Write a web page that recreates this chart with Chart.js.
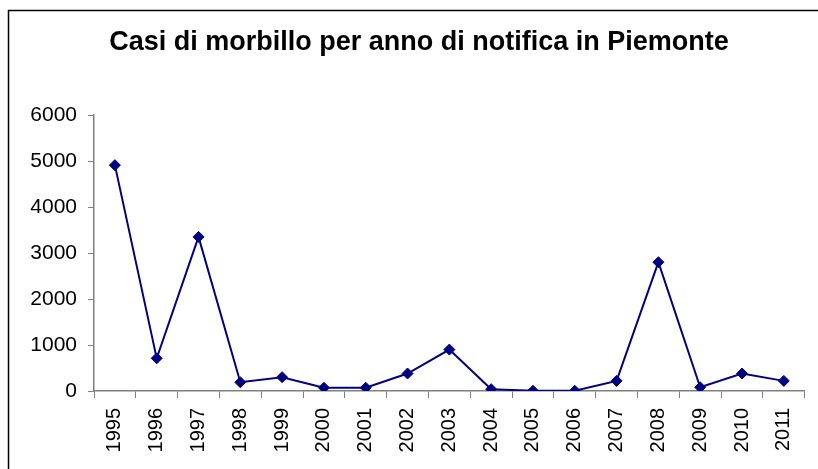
<!DOCTYPE html>
<html>
<head>
<meta charset="utf-8">
<script src="https://cdn.jsdelivr.net/npm/chart.js@4"></script>
<style>
  html, body { margin: 0; padding: 0; background: #fff; }
  #wrap { position: relative; width: 818px; height: 469px; }
</style>
</head>
<body>
<div id="wrap"><canvas id="chart"></canvas></div>
<script>
const YEARS = ['1995', '1996', '1997', '1998', '1999', '2000', '2001', '2002', '2003',
               '2004', '2005', '2006', '2007', '2008', '2009', '2010', '2011'];
const CASI = [4910, 710, 3350, 190, 300, 70, 70, 380, 900, 40, 5, 5, 220, 2800, 80, 380, 220];
const Y_MIN = 0;
const Y_MAX = 6000;
const Y_STEP = 1000;

const FONT = '"Liberation Sans", Arial, sans-serif';

// cornice esterna del grafico (solo lati superiore e sinistro visibili)
const frame = {
  id: 'frame',
  beforeDraw(chart) {
    const ctx = chart.ctx;
    ctx.save();
    ctx.fillStyle = '#fff';
    ctx.fillRect(0, 0, chart.width, chart.height);
    ctx.strokeStyle = '#000';
    ctx.lineWidth = 1.5;
    ctx.beginPath();
    ctx.moveTo(8.5, chart.height);
    ctx.lineTo(8.5, 10.5);
    ctx.lineTo(chart.width, 10.5);
    ctx.stroke();
    ctx.restore();
  }
};

const chart = new Chart(document.getElementById('chart'), {
  type: 'line',
  data: {
    labels: YEARS,
    datasets: [{
      label: 'Casi',
      data: CASI,
      borderColor: '#000080',
      backgroundColor: '#000080',
      borderWidth: 2,
      pointStyle: 'rectRot',
      pointRadius: 5.5,
      pointBorderWidth: 1,
      tension: 0,
      fill: false,
    }]
  },
  options: {
    responsive: true,
    maintainAspectRatio: false,
    animation: false,
    layout: { padding: { left: 24, right: 4, top: 0, bottom: 0 } },
    plugins: {
      legend: { display: false },
      tooltip: { enabled: false },
      title: {
        display: true,
        text: 'Casi di morbillo per anno di notifica in Piemonte',
        color: '#000',
        font: { family: FONT, size: 27, weight: 'bold', lineHeight: 1.2 },
        padding: { top: 26.8, bottom: 55.8 }
      }
    },
    scales: {
      x: {
        offset: true,
        afterFit: s => { s.height = 78; },
        grid: {
          offset: true,
          drawOnChartArea: false,
          drawTicks: true,
          tickLength: 7,
          color: '#808080',
          lineWidth: 1
        },
        border: { color: '#808080', width: 1.5 },
        ticks: {
          color: '#000',
          minRotation: 90,
          maxRotation: 90,
          autoSkip: false,
          padding: 10,
          font: { family: FONT, size: 20 }
        }
      },
      y: {
        min: Y_MIN,
        max: Y_MAX,
        afterFit: s => { s.width = 70; },
        grid: {
          drawOnChartArea: false,
          drawTicks: true,
          tickLength: 6,
          color: '#808080',
          lineWidth: 1
        },
        border: { color: '#808080', width: 1.5 },
        ticks: {
          stepSize: Y_STEP,
          color: '#000',
          padding: 11,
          font: { family: FONT, size: 21 },
          callback: v => String(v)
        }
      }
    }
  },
  plugins: [frame]
});
</script>
</body>
</html>
